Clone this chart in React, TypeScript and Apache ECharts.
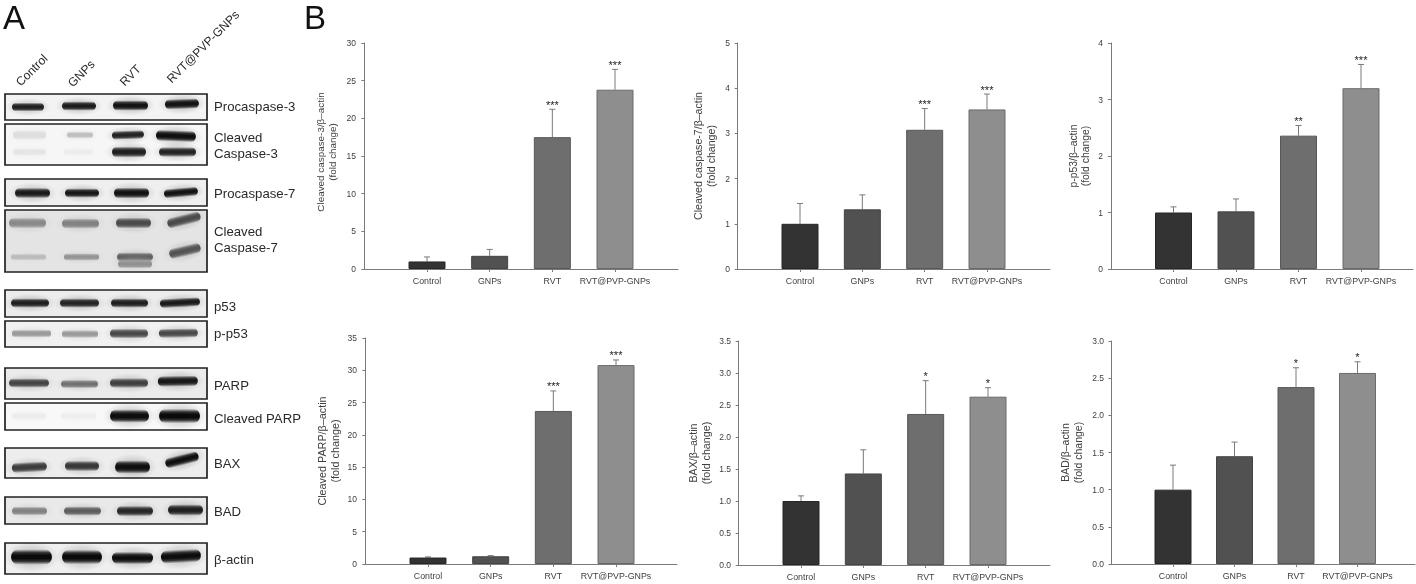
import React, { useEffect, useRef } from "react";
import * as echarts from "echarts";

// ---------- data ----------
const categories = ["Control", "GNPs", "RVT", "RVT@PVP-GNPs"];

const caspase3Values = [1, 1.75, 17.5, 23.8];
const caspase3Upper = [1.6, 2.6, 21.2, 26.5];
const caspase3Stars = ["", "", "***", "***"];

const caspase7Values = [1, 1.32, 3.08, 3.53];
const caspase7Upper = [1.45, 1.64, 3.55, 3.87];
const caspase7Stars = ["", "", "***", "***"];

const pp53Values = [1, 1.02, 2.36, 3.2];
const pp53Upper = [1.1, 1.24, 2.54, 3.62];
const pp53Stars = ["", "", "**", "***"];

const parpValues = [1, 1.2, 23.7, 30.8];
const parpUpper = [1.1, 1.3, 26.8, 31.6];
const parpStars = ["", "", "***", "***"];

const baxValues = [1, 1.43, 2.36, 2.63];
const baxUpper = [1.08, 1.8, 2.88, 2.77];
const baxStars = ["", "", "*", "*"];

const badValues = [1, 1.45, 2.38, 2.57];
const badUpper = [1.33, 1.64, 2.64, 2.72];
const badStars = ["", "", "*", "*"];

const laneLabels = ["Control", "GNPs", "RVT", "RVT@PVP-GNPs"];

// ---------- styling ----------
const barFills = ["#333333", "#515151", "#6e6e6e", "#8e8e8e"];
const barBorders = ["#262626", "#444444", "#575757", "#6a6a6a"];
const AXIS = "#7a7a7a";
const TEXT = "#404040";
const FONT = "'Liberation Sans', Arial, sans-serif";

type Panel = {
  name: string; max: number; interval: number; dec: number;
  vals: number[]; up: number[]; stars: string[];
  left: number; right: number; top: number; bottom: number; first: number; last: number; gap: number;
  nameSize: number; namePad: number;
};

const panels: Panel[] = [
  { name: "Cleaved caspase-3/β–actin\n(fold change)", max: 30, interval: 5, dec: 0, vals: caspase3Values, up: caspase3Upper, stars: caspase3Stars, left: 363, right: 678, top: 43, bottom: 269, first: 427, last: 615, gap: 24, nameSize: 9.9, namePad: 8 },
  { name: "Cleaved caspase-7/β–actin\n(fold change)", max: 5, interval: 1, dec: 0, vals: caspase7Values, up: caspase7Upper, stars: caspase7Stars, left: 737, right: 1050, top: 43, bottom: 269, first: 800, last: 987, gap: 20, nameSize: 10.6, namePad: 0 },
  { name: "p-p53/β–actin\n(fold change)", max: 4, interval: 1, dec: 0, vals: pp53Values, up: pp53Upper, stars: pp53Stars, left: 1110, right: 1413, top: 43, bottom: 269, first: 1173.5, last: 1361, gap: 18, nameSize: 10.4, namePad: 0 },
  { name: "Cleaved PARP/β–actin\n(fold change)", max: 35, interval: 5, dec: 0, vals: parpValues, up: parpUpper, stars: parpStars, left: 364, right: 677, top: 338, bottom: 564, first: 428, last: 616, gap: 23, nameSize: 10.8, namePad: 0 },
  { name: "BAX/β–actin\n(fold change)", max: 3.5, interval: 0.5, dec: 1, vals: baxValues, up: baxUpper, stars: baxStars, left: 738, right: 1050, top: 341, bottom: 565, first: 801, last: 988, gap: 26, nameSize: 10.7, namePad: 0 },
  { name: "BAD/β–actin\n(fold change)", max: 3, interval: 0.5, dec: 1, vals: badValues, up: badUpper, stars: badStars, left: 1111, right: 1415, top: 341, bottom: 564, first: 1173, last: 1357.5, gap: 27, nameSize: 10.5, namePad: 0 },
];

// ---------- western blot panel ----------
// y1, y2, membrane shade
const blotBoxes: [number, number, string][] = [
  [94, 120, "#f3f3f3"], [124, 165, "#f6f6f6"], [179, 206, "#efefef"], [210, 272, "#e4e4e4"],
  [290, 317, "#ececec"], [321, 347, "#f1f1f1"], [368, 399, "#ebebeb"], [403, 430, "#f8f8f8"],
  [448, 478, "#ededed"], [497, 524, "#e9e9e9"], [543, 574, "#efefef"],
];
// x1, x2, y, height, tilt (deg), darkness
const blotBands: [number, number, number, number, number, number][] = [
  [12, 44, 107, 6, 0, 0.9], [62, 96, 106, 6.5, 0, 0.92], [113, 148, 105.5, 7.5, 0, 0.95], [165, 199, 104, 7.5, 2, 0.95],
  [13, 46, 135, 7, 0, 0.09], [67, 93, 135, 4, 0, 0.22], [112, 144, 135, 6, 2, 0.88], [156, 196, 136, 8.5, -2, 0.97],
  [13, 46, 152, 5, 0, 0.06], [64, 93, 152, 4, 0, 0.03], [112, 146, 152, 8, 0, 0.9], [159, 196, 152, 7, 0, 0.88],
  [15, 50, 193, 7.5, 0, 0.92], [65, 99, 193, 6.5, 0, 0.93], [114, 149, 193, 8, 0, 0.96], [164, 198, 192.5, 6.5, 5, 0.95],
  [9, 46, 223, 8, 0, 0.45], [62, 99, 223.5, 7.5, 0, 0.48], [116, 151, 223, 8, 0, 0.72], [167, 201, 220, 8, 14, 0.72],
  [11, 46, 257, 4, 0, 0.24], [64, 99, 257, 4.5, 0, 0.4], [117, 153, 257, 6.5, 0, 0.62], [118, 152, 264, 6, 0, 0.42], [169, 201, 251, 8, 13, 0.68],
  [11, 49, 303, 6.5, 0, 0.9], [60, 99, 303, 6.5, 0, 0.88], [111, 148, 303, 6.5, 0, 0.9], [160, 200, 302.5, 6.5, 3, 0.92],
  [12, 51, 333.5, 5, 0, 0.38], [62, 98, 334, 5, 0, 0.38], [110, 148, 333.5, 7, 0, 0.72], [159, 198, 333, 6.5, 1, 0.72],
  [9, 49, 383, 6.5, 0, 0.74], [61, 98, 384, 5.5, 0, 0.55], [110, 148, 383, 7, 0, 0.76], [158, 198, 381, 8, 1, 0.93],
  [12, 46, 416, 5, 0, 0.03], [61, 96, 416, 5, 0, 0.02], [110, 149, 416, 10.5, 0, 0.98], [159, 200, 416, 11.5, 0, 0.99],
  [12, 47, 467, 7.5, 3, 0.78], [65, 99, 466, 7.5, 0, 0.8], [115, 150, 467, 10.5, 0, 0.97], [165, 199, 460, 8, 14, 0.97],
  [12, 47, 511, 6, 0, 0.48], [64, 101, 511, 6.5, 0, 0.64], [117, 153, 511, 7.5, 0, 0.87], [168, 203, 510, 8.5, 0, 0.9],
  [11, 52, 557, 12.5, 0, 0.99], [62, 102, 557, 11.5, 0, 0.99], [112, 153, 558, 9.5, 0, 0.98], [161, 201, 556, 10.5, 3, 0.98],
];
const blotLabels: [string, number][] = [
  ["Procaspase-3", 106], ["Cleaved", 137], ["Caspase-3", 153], ["Procaspase-7", 193],
  ["Cleaved", 231], ["Caspase-7", 247], ["p53", 306], ["p-p53", 333], ["PARP", 385],
  ["Cleaved PARP", 418], ["BAX", 463], ["BAD", 511], ["β-actin", 559],
];
const laneAnchors: [number, number][] = [[18, 84], [70, 85], [122, 84], [169, 81]];

function grey(darkness: number, alpha: number) {
  const v = Math.round(235 * (1 - darkness) + 8);
  return `rgba(${v},${v},${v},${alpha})`;
}

function blotGraphics() {
  const els: any[] = [];
  blotBoxes.forEach(([y1, y2, shade]) => {
    els.push({ type: "rect", shape: { x: 5, y: y1, width: 202, height: y2 - y1 }, style: { fill: shade } });
  });
  blotBands.forEach(([x1, x2, y, h, tilt, d]) => {
    const cx = (x1 + x2) / 2;
    const rot = (tilt * Math.PI) / 180;
    els.push({
      type: "ellipse", shape: { cx, cy: y, rx: (x2 - x1) / 2 + 7, ry: h + 3 },
      originX: cx, originY: y, rotation: rot,
      style: {
        fill: new echarts.graphic.RadialGradient(0.5, 0.5, 0.5, [
          { offset: 0, color: grey(d * 0.55, 0.5) },
          { offset: 1, color: grey(d * 0.55, 0) },
        ]),
      },
    });
    const bh = h + 3;
    els.push({
      type: "rect", shape: { x: x1, y: y - bh / 2, width: x2 - x1, height: bh, r: bh / 2 },
      originX: cx, originY: y, rotation: rot,
      style: {
        fill: new echarts.graphic.LinearGradient(0, 0, 0, 1, [
          { offset: 0, color: grey(d, 0) },
          { offset: 0.22, color: grey(d, 0.8) },
          { offset: 0.4, color: grey(d, 1) },
          { offset: 0.6, color: grey(d, 1) },
          { offset: 0.78, color: grey(d, 0.8) },
          { offset: 1, color: grey(d, 0) },
        ]),
      },
    });
  });
  blotBoxes.forEach(([y1, y2]) => {
    els.push({ type: "rect", shape: { x: 5, y: y1, width: 202, height: y2 - y1 }, style: { fill: "none", stroke: "#222222", lineWidth: 1.7 } });
  });
  blotLabels.forEach(([t, y]) => {
    els.push({ type: "text", x: 214, y, style: { text: t, font: `13.2px ${FONT}`, fill: "#2a2a2a", textAlign: "left", textVerticalAlign: "middle" } });
  });
  laneLabels.forEach((t, i) => {
    els.push({ type: "text", x: laneAnchors[i][0], y: laneAnchors[i][1], rotation: Math.PI / 4, style: { text: t, font: `12.1px ${FONT}`, fill: "#2a2a2a", textAlign: "left", textVerticalAlign: "middle" } });
  });
  els.push({ type: "text", x: 3, y: 17.6, style: { text: "A", font: `33px ${FONT}`, fill: "#111111", textAlign: "left", textVerticalAlign: "middle" } });
  els.push({ type: "text", x: 304, y: 17.6, style: { text: "B", font: `33px ${FONT}`, fill: "#111111", textAlign: "left", textVerticalAlign: "middle" } });
  return els;
}

function buildOption() {
  const grid: any[] = [];
  const xAxis: any[] = [];
  const yAxis: any[] = [];
  const series: any[] = [];
  panels.forEach((p, k) => {
    const spacing = (p.last - p.first) / 3;
    grid.push({ left: p.left, top: p.top, width: p.right - p.left, height: p.bottom - p.top, containLabel: false });
    xAxis.push({
      type: "value", gridIndex: k,
      min: 1 - (p.first - p.left) / spacing, max: 1 + (p.right - p.first) / spacing,
      splitLine: { show: false },
      axisLine: { show: true, onZero: false, lineStyle: { color: AXIS, width: 1 } },
      axisTick: { show: true, length: 3, lineStyle: { color: AXIS }, customValues: [1, 2, 3, 4] },
      axisLabel: {
        show: true, margin: 7, fontFamily: FONT, fontSize: 8.8, color: TEXT,
        customValues: [1, 2, 3, 4], formatter: (v: number) => categories[Math.round(v) - 1] ?? "",
      },
    });
    yAxis.push({
      type: "value", gridIndex: k, min: 0, max: p.max, interval: p.interval,
      name: p.name, nameLocation: "middle", nameRotate: 90, nameGap: p.gap,
      nameTextStyle: { fontFamily: FONT, fontSize: p.nameSize, color: TEXT, lineHeight: 12.5, padding: [0, 0, 0, p.namePad] },
      splitLine: { show: false },
      axisLine: { show: true, lineStyle: { color: AXIS, width: 1 } },
      axisTick: { show: true, length: 3, lineStyle: { color: AXIS } },
      axisLabel: { margin: 7, fontFamily: FONT, fontSize: 8.5, color: TEXT, formatter: (v: number) => v.toFixed(p.dec) },
    });
    series.push({
      type: "custom", xAxisIndex: k, yAxisIndex: k, z: 1, silent: true, clip: false,
      data: p.vals.map((v, i) => [i + 1, v, p.up[i]]),
      encode: { x: 0, y: 1 },
      renderItem: (params: any, api: any) => {
        const i = params.dataIndex;
        const base = api.coord([api.value(0), api.value(1)]);
        const hi = api.coord([api.value(0), api.value(2)]);
        const children: any[] = [
          { type: "line", shape: { x1: base[0], y1: base[1], x2: hi[0], y2: hi[1] }, style: { stroke: AXIS, lineWidth: 1 } },
          { type: "line", shape: { x1: hi[0] - 3, y1: hi[1], x2: hi[0] + 3, y2: hi[1] }, style: { stroke: AXIS, lineWidth: 1 } },
        ];
        if (p.stars[i]) {
          children.push({ type: "text", x: hi[0], y: hi[1] - 4.5, style: { text: p.stars[i], font: `11px ${FONT}`, fill: "#222222", textAlign: "center", textVerticalAlign: "middle" } });
        }
        return { type: "group", children };
      },
    });
    series.push({
      type: "bar", xAxisIndex: k, yAxisIndex: k, z: 2, barWidth: 37, silent: true,
      data: p.vals.map((v, i) => ({
        value: [i + 1, v],
        itemStyle: { color: barFills[i], borderColor: barBorders[i], borderWidth: 1 },
      })),
    });
  });
  return {
    animation: false,
    backgroundColor: "#ffffff",
    grid, xAxis, yAxis, series,
    graphic: { elements: blotGraphics() },
  };
}

export default function App() {
  const ref = useRef<HTMLDivElement>(null);
  useEffect(() => {
    const chart = echarts.init(ref.current as HTMLDivElement, undefined, { renderer: "svg" });
    chart.setOption(buildOption() as any);
    return () => chart.dispose();
  }, []);
  return <div ref={ref} style={{ position: "absolute", left: 0, top: 0, width: 1416, height: 584, filter: "blur(0.45px)" }} />;
}
